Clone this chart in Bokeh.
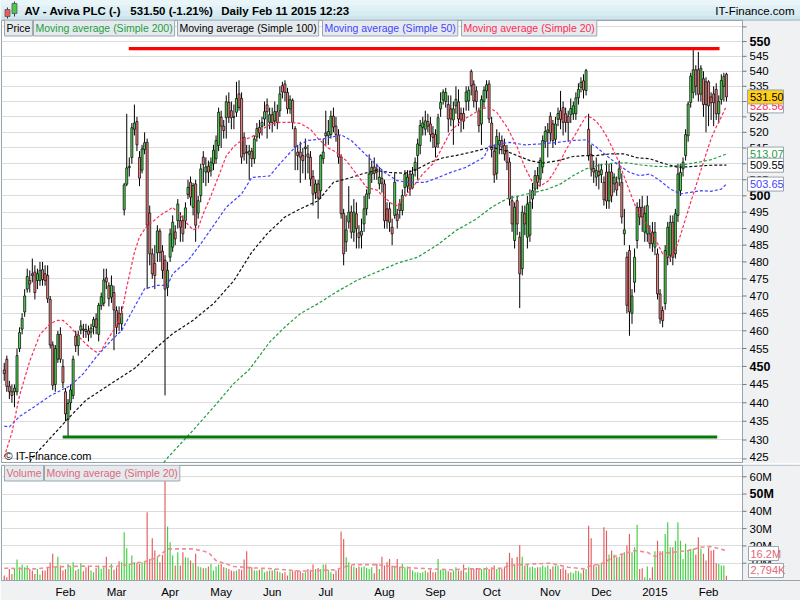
import json
import numpy as np
import pandas as pd
from bokeh.plotting import figure
from bokeh.layouts import column
from bokeh.models import Range1d, FixedTicker, Label, CustomJSTickFormatter, Grid
from bokeh.embed import file_html
from bokeh.resources import INLINE
from bokeh.core.properties import value

# ---------------- data ----------------
holidays = ["2013-12-25", "2013-12-26", "2014-01-01", "2014-04-18", "2014-04-21",
            "2014-05-05", "2014-05-26", "2014-08-25", "2014-12-25", "2014-12-26", "2015-01-01"]
days = pd.bdate_range("2013-12-30", "2015-02-11")
days = days[~days.isin(pd.to_datetime(holidays))]

opens = [
    449, 452, 444.5, 443, 443, 443, 455, 460.5, 465.4, 472,
    474.5, 476.5, 477, 474.5, 474.5, 477.7, 476.5, 476, 469, 456,
    445, 452, 459, 450, 443, 435.5, 440, 442, 458.5, 455.8,
    460.2, 460.5, 460.4, 460, 459.6, 461.2, 463.4, 459, 467.2, 467.9,
    475.3, 473, 469.7, 471, 465.8, 465, 462, 495.7, 503.6, 508.8,
    512, 521, 523.5, 512, 508, 514.5, 516.8, 494.7, 482.4, 479.5,
    482.7, 489.2, 483.2, 480.5, 472.5, 481.4, 484.4, 489, 492.4, 492.4,
    492.4, 492.4, 500.4, 504.2, 496.5, 503.7, 494.7, 500.1, 512.1, 507.4,
    509.2, 507.8, 510, 511.6, 515.8, 524.9, 522, 524.7, 529.7, 527,
    525, 526.5, 532.5, 531, 518.4, 513.7, 513, 514, 511.6, 518.5,
    521.6, 521.9, 524.3, 528.9, 523.2, 525.7, 523.7, 526.7, 527, 535.2,
    535.8, 533, 527.6, 530.4, 521.2, 513.7, 513.7, 512.6, 514.8, 513.1,
    512.1, 506, 501, 503.7, 501.6, 511.6, 519.8, 518.9, 519.3, 525.2,
    522, 519.1, 512.1, 494.6, 486, 492, 495, 488.9, 494.5, 488.7,
    488, 491.4, 496, 500.6, 506.8, 509, 508.3, 503.7, 505.4, 503.7,
    496, 496, 490.4, 494, 494.4, 497.5, 495.5, 502.6, 503, 506.8,
    502.5, 507.9, 512.6, 515.8, 521.6, 521, 523.5, 522.7, 519.6, 519.3,
    516.3, 527.6, 530.5, 530, 529, 527.6, 524, 528.6, 529.9, 526.1,
    526.1, 530, 530.2, 539.9, 535.7, 533.5, 527, 522.7, 530, 533.5,
    535.8, 523, 514, 507, 516, 517.4, 515.8, 514.2, 510.5, 498.5,
    486.4, 498.5, 487.4, 478, 494.5, 487.4, 488, 499, 502.1, 506.3,
    505.2, 509, 517, 520, 525.2, 522.7, 517.8, 524.2, 527, 528,
    526, 525.2, 525.7, 526, 526, 531.2, 534.7, 536.8, 533.6, 521,
    513, 508.5, 505.8, 507.6, 506.6, 504.2, 507.4, 498.4, 507.4, 503.7,
    504.2, 505.4, 504.2, 488.4, 481.4, 483.4, 465, 474, 486.4, 496.5,
    496.5, 488.9, 488.4, 488.4, 488.9, 484.4, 482.4, 470.6, 465.8, 467.8,
    481.4, 482, 491.9, 482.4, 494, 501.6, 508.4, 512.6, 518.9, 529.7,
    533, 540.5, 540.5, 532.4, 537.5, 536.5, 536.5, 531.5, 532.5, 534,
    526, 530.6, 535, 539,
]
highs = [
    451, 453, 446, 445, 445, 455, 461, 465, 472, 478,
    477.5, 481, 479, 478, 480, 480, 479, 479, 470, 457,
    456, 460, 461, 452, 444, 441, 445, 453, 460, 460,
    463, 462, 462, 461.5, 462, 464, 465, 468, 471, 478,
    478, 474, 476, 473, 467, 467, 467, 504, 526, 512,
    523, 529, 525, 514, 516, 520, 518, 497, 484, 485,
    491, 490, 485, 482, 480, 490, 494, 491, 499, 495,
    494, 498, 505, 506, 504, 505, 500, 510, 514, 512,
    511, 512, 516, 519, 528, 527, 524, 532, 533, 530,
    529, 536.5, 537, 533, 520, 516, 516, 515, 519, 523,
    524, 525, 530, 531, 528, 528, 530, 529, 535, 536.5,
    537, 534.5, 532, 531, 522, 516, 517, 515, 518, 516,
    514, 508, 505, 505, 513, 518, 527, 524, 527, 528,
    525, 521, 513, 496, 494, 503, 497, 499, 498, 491,
    493, 500, 502, 513, 511, 512, 510, 509, 508, 505,
    498, 498, 493, 507, 496, 499, 502, 508, 508, 508,
    509, 512, 518, 524, 525, 527, 526, 525, 522, 521,
    526, 533, 534, 534.5, 532, 532, 530, 535, 534, 528,
    528, 535, 535, 540.6, 537, 535, 528, 532, 535, 537,
    537, 525, 516, 521, 520, 519, 518, 516, 512, 500,
    498, 500, 489, 497, 497, 500, 502, 504, 508, 509,
    512, 519, 522, 523, 526.5, 524, 525, 528, 533.5, 530,
    528, 527, 531, 530, 533, 536, 538, 539, 540.8, 526,
    516, 511, 512, 510, 510, 506, 511, 510, 510, 507,
    506, 511, 507, 496, 483, 485, 472, 484, 498, 499,
    500, 497, 500, 491, 492, 492, 484, 472, 467, 485,
    492, 494, 494, 496, 510, 510, 512, 521, 530, 539.5,
    547.6, 542, 546.5, 542, 540, 538, 537, 533, 535, 536,
    532, 539, 539.5, 539.5,
]
lows = [
    446, 443, 441, 440, 438.8, 442, 454, 459, 464, 471,
    471, 474, 469, 472, 473, 473, 473, 468, 455, 443.5,
    443, 451, 451, 444, 435, 431, 438, 441, 454, 453,
    459, 458, 458, 457, 458, 459, 459, 457, 466, 467,
    472, 467, 468, 454.5, 459, 460, 460, 494, 503, 506,
    510, 519, 514, 503, 507, 513, 472, 479, 475, 472,
    480, 480, 475, 442, 470, 480, 483, 485, 490, 486,
    486, 490, 499, 497, 494, 486, 493, 498, 504, 503,
    504, 506, 508, 510, 514, 515, 518, 518, 523, 521,
    521, 525, 527, 510, 511, 510, 505, 509, 510, 517,
    518, 519, 522, 518, 521, 520, 522, 521, 525, 531,
    530, 526, 526, 521, 508, 508, 504, 507, 505, 507,
    503, 497, 499, 493, 499, 510, 516, 516, 518, 520,
    517, 510, 493, 479, 483, 490, 487, 486, 484, 484,
    484, 489, 494, 499, 504, 505, 505, 502, 501, 490,
    490, 489, 485, 493, 490, 493, 494, 500, 501, 500,
    502, 506, 505, 513, 519, 519, 520, 517, 515, 512,
    515, 525, 529, 528, 520, 522, 516, 526, 522, 520,
    521, 527, 527, 532, 528, 527, 520, 516, 528, 531,
    523, 512, 504, 505, 513, 513, 511, 508, 497, 489,
    484, 488, 466.5, 476, 488, 484, 486, 496, 500, 502,
    503, 507, 515, 512, 517, 515, 516, 522, 521, 519,
    520, 517, 523, 524, 524, 529, 533, 531, 532, 511,
    506, 504, 503, 502, 504, 497, 496, 496, 498, 501,
    500, 503, 491.5, 485, 465, 458.6, 462, 471, 484, 491,
    489, 486, 486, 484, 483, 482, 469, 462, 461, 466,
    479, 480, 479, 481, 492, 500, 506, 511, 517, 528,
    531, 532, 530, 530, 525, 520, 522, 524, 522, 524,
    523, 529, 530, 530,
]
closes = [
    448, 444.5, 443, 442, 444, 453, 459.5, 463.5, 470, 475.7,
    473.5, 476, 471, 476.5, 477.5, 474.8, 474.5, 469.2, 456, 444.8,
    455, 459, 452, 445.5, 437, 439.8, 443.5, 452, 455.8, 458.8,
    461.4, 460.2, 459.8, 459, 460.8, 463.2, 461, 467.3, 469.8, 474.7,
    474.1, 469.2, 473.1, 466, 461, 462, 465, 503.4, 508.7, 509.2,
    521.5, 523, 516, 505.5, 514.7, 516.7, 491, 482.4, 476.5, 476,
    489.3, 482.8, 477.5, 472, 477.5, 488.4, 491.9, 486.9, 497.5, 490.4,
    488.4, 496.3, 502.6, 499.6, 503.2, 491, 498.5, 508.4, 509.8, 509,
    507.4, 510.5, 514.3, 517.4, 526.5, 522, 520.6, 529.9, 524.9, 524.7,
    524.9, 531, 528.1, 512.1, 513.2, 513.5, 514, 511.6, 517.9, 521.2,
    519.8, 523.2, 526.7, 526.7, 525.7, 523.2, 526.7, 523.2, 532.5, 533.1,
    533, 527.6, 530.6, 523.2, 515.3, 512.6, 512.1, 511, 515.3, 512.1,
    505.2, 500.5, 503.7, 499.3, 512.6, 513.7, 518.9, 520.3, 525.2, 521.7,
    519.3, 512.1, 494.5, 482.4, 489.6, 495, 488.9, 495, 490, 487.3,
    489.2, 496, 500.6, 506.8, 508.9, 507, 507.4, 505.8, 503.9, 492.4,
    492.4, 491.9, 488.4, 504.2, 492.4, 495.5, 500.1, 506.8, 505.8, 502.1,
    506.8, 510.5, 516.3, 522.2, 523, 523.7, 522, 519.3, 518.4, 515.3,
    524.7, 529.7, 533.1, 533, 524.3, 524.3, 527.6, 530.7, 524.3, 524,
    523.6, 533.1, 533.7, 535.2, 530.2, 530, 522.2, 530.6, 533.7, 535.5,
    524.3, 514.5, 506.5, 518.7, 517.4, 515.3, 513.1, 510.5, 499, 491.4,
    496.5, 491.4, 476.5, 495, 491.4, 497.5, 498, 501.6, 506.3, 504.2,
    511, 517.4, 520.3, 520.8, 519.8, 517.4, 522.7, 526.1, 524.2, 523.2,
    523.2, 523.2, 527.7, 528.6, 531.2, 534, 536.3, 533.8, 540.2, 512.6,
    508.3, 507.4, 507.9, 506.3, 508.1, 498.8, 498.4, 507.4, 500, 505.8,
    501.8, 508.4, 493.5, 489.6, 467.3, 465.4, 470, 481.4, 496.5, 493.5,
    493.5, 494.6, 497, 485.4, 485.4, 488.9, 470.6, 463.4, 462.9, 483.4,
    490.4, 491.9, 481.4, 494.5, 506.8, 507.3, 510.5, 519.3, 529.2, 538.4,
    540.5, 535, 532.4, 541, 529, 529, 528.6, 529.6, 529.6, 526,
    530, 536.9, 538.3, 531.5,
]
# volume in millions of shares
volume_m = [
    2.9, 1.9, 6.7, 3.8, 6.7, 12.1, 7.7, 9.2, 7.7, 8.7,
    6.7, 5.8, 3.8, 6.7, 3.5, 5.8, 5.8, 7.7, 10.4, 15.4,
    7.7, 13.8, 8.7, 5.8, 6.7, 9.6, 8.1, 10.6, 5.8, 6.7,
    10, 5.4, 7.7, 8.5, 5.8, 4.8, 7.3, 8.7, 6.7, 7.7,
    13.8, 6.7, 9.6, 6.2, 7.7, 11.2, 10.6, 27.9, 18.7, 9.6,
    14.4, 10.6, 10, 9.6, 10.6, 10.6, 39.4, 12.5, 24.4, 17.3,
    13.5, 10.6, 14.8, 58, 31.2, 22.1, 14.4, 8.7, 16.3, 8.7,
    16.3, 13.5, 13.1, 11.5, 10, 15.4, 8.1, 7.7, 7.1, 7.3,
    8.1, 9.6, 5.8, 8.1, 9.2, 9.6, 7.7, 7.3, 6.7, 5.8,
    5.4, 5.8, 6.7, 6.2, 12.1, 16.9, 7.7, 7.7, 5.8, 5.8,
    6.2, 6.7, 4.8, 5.4, 5.8, 5.8, 6.7, 5.4, 4.8, 4.2,
    4.8, 2.9, 5.2, 5.4, 5.8, 5.4, 5.4, 4.4, 4.8, 6.7,
    6.2, 9.2, 6.7, 7.3, 6.7, 9.2, 9.2, 6.2, 4.8, 3.8,
    5.8, 6.7, 28.3, 24, 13.5, 10.6, 8.7, 8.1, 7.3, 8.1,
    7.7, 8.1, 7.3, 6.7, 7.7, 4.2, 9.6, 6.7, 13.8, 8.7,
    10.6, 12.5, 8.7, 8.1, 12.5, 8.0, 9.6, 7.7, 8.1, 6.7,
    5.8, 4.8, 4.8, 4.4, 4.8, 5.8, 4.8, 6.2, 4.8, 4.8,
    12.5, 6.2, 6.7, 6.2, 5.4, 4.8, 5.8, 7.7, 5.8, 5.8,
    9.2, 4.8, 7.7, 6.7, 6.7, 7.3, 6.7, 6.7, 7.3, 7.7,
    6.7, 7.7, 8.7, 6.7, 7.3, 6.7, 7.7, 10.6, 16, 13,
    9.2, 13.8, 20.6, 13.8, 8.7, 9.2, 7.7, 8.1, 7.3, 7.7,
    7.7, 8.7, 7.7, 8.7, 6.7, 8.1, 8.7, 8.7, 6.7, 7.7,
    6.2, 4.2, 4.8, 4.2, 5.8, 5.4, 4.2, 6.2, 6.7, 31.7,
    24.4, 9, 8.1, 9.2, 10.2, 30.8, 28.8, 15, 17.3, 15,
    13.5, 13.8, 15.4, 16.3, 20.2, 26.9, 16.3, 19.2, 32.3, 6.7,
    7.1, 1.9, 8.1, 1.5, 7.7, 16.9, 23, 16.9, 16.9, 26.9,
    33.7, 19.2, 19.2, 23, 33.7, 23, 12.5, 21.2, 17.3, 18.3,
    18.3, 15, 25, 18.3, 15.4, 11.5, 18.8, 17.3, 17.7, 10,
    9.6, 8.7, 8.7, 2.794,
]

# moving averages (day index, value)
sma20_i = [0, 3, 6, 10, 14, 18, 21, 23, 26, 29, 32, 34, 36, 38, 40, 44, 46, 48, 51, 53,
           56, 59, 61, 64, 66, 69, 72, 74, 76, 78, 81, 85, 87, 90, 93, 97, 100, 104, 108, 112,
           116, 120, 123, 127, 130, 134, 138, 142, 146, 149, 152, 154, 157, 160, 164, 168, 171, 175, 179, 183,
           187, 190, 193, 197, 201, 204, 207, 210, 213, 215, 218, 220, 222, 224, 226, 228, 230, 232, 234, 236,
           238, 240, 242, 244, 246, 248, 251, 253, 256, 258, 261, 263, 265, 267, 269, 271, 273, 275, 277, 279,
           281, 283]
sma20_v = [425.5, 432, 442, 451.5, 459, 462, 463, 463, 461, 458.5, 456.3, 455, 454, 454.3, 457, 461.5, 465, 472.6, 482.8, 487.5,
           490.9, 492.6, 494, 495.4, 496.5, 494, 491.2, 489.6, 490.2, 494.5, 500, 508.2, 512.5, 515.5, 517.4, 518.5, 520.4, 522.5, 523.2, 523.2,
           522.9, 521, 518, 515, 513.7, 511, 506.8, 502.6, 501.8, 499.5, 497.5, 497, 499.6, 502.6, 506.8, 510, 514.2, 520.4, 523.7, 525.6,
           527.6, 528.1, 526.5, 521.7, 515.3, 508.9, 504.2, 503, 504.5, 506.8, 511, 514.2, 517, 519.6, 522.5, 525.2, 524.8, 523.5, 521.5, 518.8,
           515.5, 512.1, 508, 503.7, 499.5, 495.5, 492, 489.6, 485.5, 482.4, 481, 483.5, 488, 493, 498, 503, 508, 513, 518, 521.7,
           525, 528.56]
sma50_i = [0, 2, 6, 12, 18, 26, 31, 36, 42, 46, 51, 55, 60, 64, 66, 72, 77, 82, 87, 93,
           97, 104, 108, 114, 119, 125, 132, 136, 142, 149, 154, 158, 162, 165, 170, 175, 181, 188, 190, 194,
           198, 204, 210, 217, 223, 228, 232, 236, 240, 245, 249, 253, 257, 261, 265, 269, 273, 277, 281, 283]
sma50_v = [433.7, 433.5, 436.3, 439, 441.9, 444.7, 448, 452.6, 457.3, 460.1, 466.8, 472.1, 473.1, 473.1, 476.5, 480.4, 485.4, 490.9, 496.5, 500.6,
           505.7, 506.2, 510, 515.3, 517.4, 517.9, 519.2, 517.4, 512.6, 507.3, 504.7, 504.2, 504.2, 504.2, 505.7, 507.3, 508.9, 512.1, 515.5, 516.3,
           516.8, 516, 516.3, 516.8, 517.4, 517.6, 515.3, 512.6, 510, 507.3, 506.3, 506.8, 504.7, 502.1, 500.6, 501.1, 501.6, 501.4, 502.1, 503.65]
sma100_i = [8, 11, 25, 32, 42, 51, 60, 66, 74, 82, 90, 97, 103, 110, 116, 123, 129, 136, 141, 146,
            151, 157, 162, 167, 172, 177, 183, 188, 191, 196, 201, 206, 211, 217, 223, 228, 232, 237, 243, 248,
            253, 258, 264, 269, 274, 279, 283]
sma100_v = [422, 425.3, 435.7, 440.7, 445.3, 449.4, 455.5, 459.2, 463, 467.8, 474.5, 482.9, 488.4, 493.5, 496, 498.5, 504.2, 505.7, 507, 507.9,
            507.3, 507, 508.4, 510.5, 511.9, 512.6, 513.7, 514.7, 515.3, 514.2, 512.6, 511, 510.2, 511, 512.3, 512.6, 512.6, 513.1, 513.1, 511.9,
            511.6, 510.2, 508.9, 509.1, 509.4, 509.6, 509.55]
sma200_i = [60, 64, 74, 82, 90, 96, 104, 110, 116, 123, 130, 138, 146, 154, 162, 170, 177, 185, 191, 197,
            204, 208, 213, 218, 223, 228, 234, 239, 244, 249, 255, 261, 266, 272, 277, 283]
sma200_v = [422, 425.3, 432.6, 438.8, 445.3, 449.1, 456.8, 461.1, 464.9, 467.8, 471.1, 474.5, 477, 479.6, 481.4, 485.2, 489.4, 492.9, 496.5, 499.1,
            500.4, 501.1, 502.1, 503.7, 506.3, 508.4, 509.7, 510.2, 510.3, 509.7, 509.2, 509.1, 509.7, 510.5, 511.3, 513.07]
vma_i = [0, 12, 18, 25, 31, 38, 43, 48, 51, 56, 60, 64, 69, 74, 80, 83, 87, 90, 98, 106,
         116, 124, 130, 133, 137, 145, 155, 162, 168, 175, 181, 188, 195, 198, 208, 214, 221, 227, 230, 234,
         240, 247, 252, 255, 257, 262, 268, 273, 277, 282, 283]
vma_m = [7.1, 6.7, 7.7, 8.1, 8.3, 8.1, 8.1, 9, 10, 11.2, 13.5, 18.3, 18.3, 18.3, 16.3, 11.5, 9.5, 8.1, 7.3, 6.7,
         5.4, 5.8, 6.2, 7.7, 9.2, 9.2, 7.7, 7.1, 6.7, 6.2, 6.7, 6.7, 7.1, 8.7, 9.6, 10, 7.7, 6.7, 8.7, 9.6,
         14.4, 17.3, 16.3, 13.8, 15.4, 16.3, 17.3, 19.2, 19.6, 17.7, 16.2]

# hand-drawn trend lines (day index, price)
res_i = [48.8, 280.3]
res_v = [547.6, 547.6]
sup_i = [22.9, 279.4]
sup_v = [430.8, 430.8]

price_ticks = list(range(425, 560, 5))
price_bold = [450, 500, 550]
vol_ticks_m = [10, 20, 30, 40, 50, 60]
vol_bold_m = [50]
month_labels = ["Feb", "Mar", "Apr", "May", "Jun", "Jul", "Aug", "Sep", "Oct", "Nov", "Dec", "2015", "Feb"]

last_price, last_sma20, last_sma200, last_sma100, last_sma50 = 531.50, 528.56, 513.07, 509.55, 503.65
last_vma_m, last_vol_m = 16.2, 2.794

# ---------------- layout constants ----------------
FONT = "Liberation Sans"
W = 800
LB = 1
FW_DATA = 741              # frame pixels that hold the candles
X0, X1 = -1.08, 289.3      # day-index range that spans FW_DATA pixels
PPU = FW_DATA / (X1 - X0)  # pixels per day
XEND = X0 + (W - LB) / PPU
HH = 20
PH = 443
VTOP, VBOT = 2, 20
VFH = 115
VH = VTOP + VFH + VBOT
UP, DOWN = "#52d452", "#f08282"
VUP, VDOWN = "#3fcf3f", "#e25c5c"
PANEL = "#eff1f3"
FRAME = "#98a4ac"
TICK = "#6f7a82"
PYLO, PYHI = 423.8, 557.2
KP = PH / np.log(PYHI / PYLO)   # pixels per ln-unit of price
VYHI = 66.5e6
KV = VFH / VYHI                 # pixels per share


def dx(px):
    return px / PPU


n = len(closes)
idx = np.arange(n)
o = np.array(opens, float)
c = np.array(closes, float)
up = c >= o
body_col = [UP if u else DOWN for u in up]
vol_col = [VUP if u else VDOWN for u in up]

XR = Range1d(X0, XEND)

# ---------------- header ----------------
h = figure(width=W, height=HH, x_range=Range1d(0, W), y_range=Range1d(0, HH),
           output_backend="svg", toolbar_location=None, min_border=0,
           x_axis_location=None, y_axis_location=None)
h.grid.visible = False
h.outline_line_color = None
h.background_fill_color = "#d9ecf2"
h.border_fill_color = "#d9ecf2"
h.quad(left=0, right=W, bottom=[0, 5, 10, 15], top=[5, 10, 15, 20],
       fill_color=["#cfe5ed", "#d7ebf2", "#e0f0f5", "#e8f5f9"], line_color=None)
h.segment(x0=[0], y0=[0.5], x1=[W], y1=[0.5], line_color="#a9b8bf", line_width=1)
h.segment(x0=[6, 13], y0=[2, 4], x1=[6, 13], y1=[13, 19], line_color="#333333", line_width=1)
h.quad(left=[3.5, 10.5], right=[8.5, 15.5], bottom=[4, 7], top=[11, 17],
       fill_color=["#e85c5c", "#4cc84c"], line_color="#555555", line_width=0.8)
h.text(x=[23, 129, 220], y=[10, 10, 10],
       text=["AV - Aviva PLC (-)", "531.50 (-1.21%)", "Daily  Feb 11 2015 12:23"],
       text_font=value(FONT), text_font_size="11.5px", text_font_style="bold",
       text_baseline="middle", text_color="#000000")
h.text(x=[W - 6], y=[10], text=["IT-Finance.com"], text_font=value(FONT),
       text_font_size="11.5px", text_align="right", text_baseline="middle", text_color="#000000")


def legend_box(fig, x, y, text, color):
    fig.add_layout(Label(x=x, y=y, x_units="screen", y_units="screen", text=text, text_font=FONT,
                         text_font_size="10.5px", text_color=color, text_baseline="middle",
                         text_align="left", background_fill_color="#e4eaee",
                         border_line_color="#9aa7b0", padding=2))


def right_scale(fig, ticks, labels, bold, label_y, lo, hi):
    """Scale panel at the right of the frame, positioned through the figure's own scales."""
    fig.quad(left=[X1], right=[XEND + 1], bottom=[lo], top=[hi], fill_color=PANEL, line_color=None)
    fig.segment(x0=[X1], y0=[lo], x1=[X1], y1=[hi], line_color=FRAME, line_width=1)
    fig.segment(x0=[X1] * len(ticks), y0=ticks, x1=[X1 + dx(4)] * len(ticks), y1=ticks,
                line_color=TICK, line_width=1)
    norm = [(t, l) for t, l, b in zip(label_y, labels, bold) if not b and l]
    strong = [(t, l) for t, l, b in zip(label_y, labels, bold) if b and l]
    fig.text(x=[X1 + dx(7)] * len(norm), y=[t for t, _ in norm], text=[l for _, l in norm],
             text_font=value(FONT), text_font_size="11.5px", text_baseline="middle",
             text_color="#000000")
    fig.text(x=[X1 + dx(7)] * len(strong), y=[t for t, _ in strong], text=[l for _, l in strong],
             text_font=value(FONT), text_font_size="12.5px", text_font_style="bold",
             text_baseline="middle", text_color="#000000")


# ---------------- price panel ----------------
p = figure(width=W, height=PH, x_range=XR, y_range=Range1d(PYLO, PYHI), y_axis_type="log",
           y_axis_location=None, x_axis_location=None, output_backend="svg",
           toolbar_location=None, min_border_left=LB, min_border_right=0,
           min_border_top=0, min_border_bottom=0)
p.border_fill_color = PANEL
p.background_fill_color = "white"
p.outline_line_color = FRAME
p.grid.visible = False
p.add_layout(Grid(dimension=1, ticker=FixedTicker(ticks=price_ticks), grid_line_color="#dcdcdc"))

top = np.maximum(o, c)
bot = np.minimum(o, c)
p.segment(x0=idx, y0=lows, x1=idx, y1=highs, line_color="#000000", line_width=1)
p.vbar(x=idx, width=0.8, top=top, bottom=bot, fill_color=body_col,
       line_color="#000000", line_width=0.7)

p.line(sma200_i, sma200_v, line_color="#1f9e3f", line_width=1.2, line_dash="3 2")
p.line(sma100_i, sma100_v, line_color="#111111", line_width=1.2, line_dash="3 2")
p.line(sma50_i, sma50_v, line_color="#4444ff", line_width=1.2, line_dash="3 2")
p.line(sma20_i, sma20_v, line_color="#ff2b56", line_width=1.2, line_dash="3 2")
p.line(res_i, res_v, line_color="#ff0000", line_width=3.2)
p.line(sup_i, sup_v, line_color="#087808", line_width=3.2)

shown = [str(t) if t != 555 else "" for t in price_ticks]
min_lab = PYLO * np.exp(6.5 / KP)          # keep the lowest label fully inside the panel
label_y = [max(t, min_lab) for t in price_ticks]
right_scale(p, price_ticks, shown, [t in price_bold for t in price_ticks], label_y, 400, 600)

# last-value boxes on the price scale
pv = [last_sma20, last_price, last_sma200, last_sma100, last_sma50]
ptxt = [f"{v:.2f}" for v in pv]
pfill = ["#ffffff", "#ffcf1a", "#ffffff", "#ffffff", "#ffffff"]
pcol = ["#ff2b56", "#000000", "#1f9e3f", "#000000", "#4444ff"]
fac = np.exp(7.0 / KP)
for v_, t_, f_, c_ in zip(pv, ptxt, pfill, pcol):
    p.quad(left=[X1 + dx(5)], right=[X1 + dx(41)], bottom=[v_ / fac], top=[v_ * fac],
           fill_color=f_, line_color="#9aa4ac", line_width=1)
    p.text(x=[X1 + dx(7.5)], y=[v_], text=[t_], text_font=value(FONT), text_font_size="11px",
           text_baseline="middle", text_color=c_)

LY = PH - 7.5
legend_box(p, 3, LY, "Price", "#000000")
legend_box(p, 32, LY, "Moving average (Simple 200)", "#1f9e3f")
legend_box(p, 176, LY, "Moving average (Simple 100)", "#000000")
legend_box(p, 321, LY, "Moving average (Simple 50)", "#4444ff")
legend_box(p, 460, LY, "Moving average (Simple 20)", "#ff2b56")

p.add_layout(Label(x=3, y=8, x_units="screen", y_units="screen", text="© IT-Finance.com",
                   text_font=FONT, text_font_size="11px", text_color="#000000",
                   text_baseline="middle"))

# ---------------- volume panel ----------------
v = figure(width=W, height=VH, x_range=XR, y_range=Range1d(0, VYHI),
           y_axis_location=None, output_backend="svg", toolbar_location=None,
           min_border_left=LB, min_border_right=0, min_border_top=VTOP, min_border_bottom=VBOT)
v.border_fill_color = PANEL
v.background_fill_color = "white"
v.outline_line_color = FRAME
v.grid.visible = False
vt = [m * 1e6 for m in vol_ticks_m]
v.add_layout(Grid(dimension=1, ticker=FixedTicker(ticks=vt), grid_line_color="#dcdcdc"))

vol = np.array(volume_m) * 1e6
v.vbar(x=idx, width=0.45, top=vol, bottom=0, fill_color=vol_col, line_color=None)
v.line(vma_i, np.array(vma_m) * 1e6, line_color="#f08a94", line_width=1.6, line_dash="4 3")

right_scale(v, vt, [f"{m}M" for m in vol_ticks_m], [m in vol_bold_m for m in vol_ticks_m], vt, -1e6, 80e6)

vtxt = [f"{last_vma_m}M", f"{last_vol_m * 1000:,.0f}K"]
vpos = [15.6e6, 5.8e6]          # label slots on the scale (shifted to stay inside)
vw = [30, 35]
half = 7.0 / KV
for y_, t_, w_ in zip(vpos, vtxt, vw):
    v.quad(left=[X1 + dx(6)], right=[X1 + dx(6 + w_)], bottom=[y_ - half], top=[y_ + half],
           fill_color="#ffffff", line_color="#9aa4ac", line_width=1)
    v.text(x=[X1 + dx(8)], y=[y_], text=[t_], text_font=value(FONT), text_font_size="11px",
           text_baseline="middle", text_color="#e06878")

month_idx = [k for k in range(1, len(days)) if days[k].month != days[k - 1].month][1:]
label_map = {str(int(k)): lab for k, lab in zip(month_idx, month_labels)}
vx = v.xaxis[0]
vx.ticker = FixedTicker(ticks=[int(k) for k in month_idx])
vx.formatter = CustomJSTickFormatter(
    code="const m = %s; const s = m[String(Math.round(tick))]; return s === undefined ? '' : s;"
    % json.dumps(label_map))
vx.axis_line_color = FRAME
vx.major_tick_line_color = None
vx.major_tick_out = 0
vx.major_tick_in = 0
vx.minor_tick_line_color = None
vx.minor_tick_out = 0
vx.major_label_text_font = FONT
vx.major_label_text_font_size = "11.5px"
vx.major_label_text_color = "#000000"
vx.major_label_standoff = 5

VLY = VFH - 7.5
legend_box(v, 3, VLY, "Volume", "#e06878")
legend_box(v, 43, VLY, "Moving average (Simple 20)", "#e06878")

layout = column(h, p, v, spacing=0)
open("out.html", "w").write(file_html(layout, INLINE, "AV - Aviva PLC"))
